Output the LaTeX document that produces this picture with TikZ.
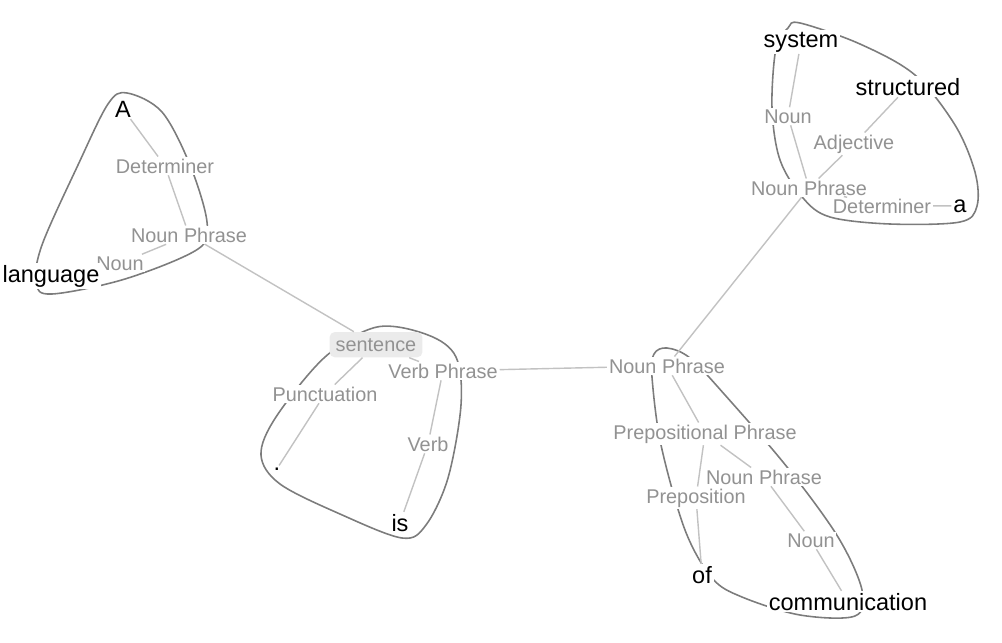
\documentclass[tikz,border=0pt]{standalone}
\usepackage{fontspec}
\setmainfont{Liberation Sans}
\usetikzlibrary{positioning}
\definecolor{hullgray}{HTML}{7C7C7C}
\definecolor{edgegray}{HTML}{C2C2C2}
\definecolor{taggray}{HTML}{929292}
\definecolor{rootfill}{HTML}{EBEBEB}

\begin{document}
\begin{tikzpicture}[x=0.02cm, y=-0.02cm,
		word/.style={font=\fontsize{13.4}{16}\selectfont, text=black, fill=white, inner sep=1pt, anchor=base},
		tag/.style={font=\fontsize{11.3}{13}\selectfont, text=taggray, fill=white, inner sep=1pt, anchor=base},
		root/.style={tag, fill=rootfill, rounded corners=3pt, inner xsep=3.5pt, inner ysep=3.5pt},
		edge/.style={edgegray, line width=0.8pt},
		hull/.style={hullgray, line width=0.9pt},
	]
		\useasboundingbox (0,0) rectangle (1002,643);

		% hulls round the phrases
		\draw[hull] plot[smooth cycle, tension=0.55] coordinates {(127,93) (162,112) (190,165) (207,222) (198,249) (125,279) (52,294) (36,283) (42,245) (78,165) (108,104)};
		\draw[hull] plot[smooth cycle, tension=0.55] coordinates {(377,327) (428,335) (456,357) (461,405) (448,478) (426,525) (402,538) (340,514) (280,484) (261,455) (276,417) (325,357)};
		\draw[hull] plot[smooth cycle, tension=0.55] coordinates {(667,348) (690,358) (725,395) (787,467) (838,537) (862,590) (855,616) (800,615) (742,597) (712,578) (685,530) (661,445) (652,377) (654,354)};
		\draw[hull] plot[smooth cycle, tension=0.55] coordinates {(800,23) (860,44) (915,75) (955,125) (975,172) (977,206) (960,222) (890,224) (830,217) (803,198) (780,160) (772,108) (776,48) (788,28)};

		% left noun phrase
		\node[word] (wA) at (123,117) {A};
		\node[tag] (detA) at (165,173) {Determiner};
		\node[tag] (npA) at (189,242) {Noun Phrase};
		\node[tag] (nounA) at (120,270) {Noun};
		\node[word] (wLanguage) at (51,282) {language};

		% sentence and verb phrase
		\node[root] (sentence) at (376,351) {sentence};
		\node[tag] (vp) at (443,378) {Verb Phrase};
		\node[tag] (punct) at (325,401) {Punctuation};
		\node[tag] (verb) at (428,451) {Verb};
		\node[word] (wDot) at (277,470) {.};
		\node[word] (wIs) at (400,531) {is};

		% object noun phrase
		\node[tag] (npB) at (667,373) {Noun Phrase};
		\node[tag] (pp) at (705,439) {Prepositional Phrase};
		\node[tag] (npC) at (764,484) {Noun Phrase};
		\node[tag] (prep) at (696,503) {Preposition};
		\node[tag] (nounC) at (811,547) {Noun};
		\node[word] (wOf) at (702,583) {of};
		\node[word] (wComm) at (848,610) {communication};

		% top noun phrase
		\node[word] (wSystem) at (801,47) {system};
		\node[word] (wStruct) at (908,95) {structured};
		\node[tag] (nounD) at (788,123) {Noun};
		\node[tag] (adj) at (854,149) {Adjective};
		\node[tag] (npD) at (809,195) {Noun Phrase};
		\node[tag] (detD) at (882,213) {Determiner};
		\node[word] (wa) at (960,212) {a};

		\draw[edge] (wA) -- (detA) -- (npA) -- (nounA);
		\draw[edge] (npA) -- (sentence);
		\draw[edge] (sentence) -- (vp);
		\draw[edge] (sentence) -- (punct) -- (wDot);
		\draw[edge] (vp) -- (verb) -- (wIs);
		\draw[edge] (vp) -- (npB);
		\draw[edge] (npB) -- (npD);
		\draw[edge] (npB) -- (pp) -- (prep) -- (wOf);
		\draw[edge] (pp) -- (npC) -- (nounC) -- (wComm);
		\draw[edge] (npD) -- (nounD) -- (wSystem);
		\draw[edge] (npD) -- (adj) -- (wStruct);
		\draw[edge] (npD) -- (detD) -- (wa);
	\end{tikzpicture}
\end{document}
